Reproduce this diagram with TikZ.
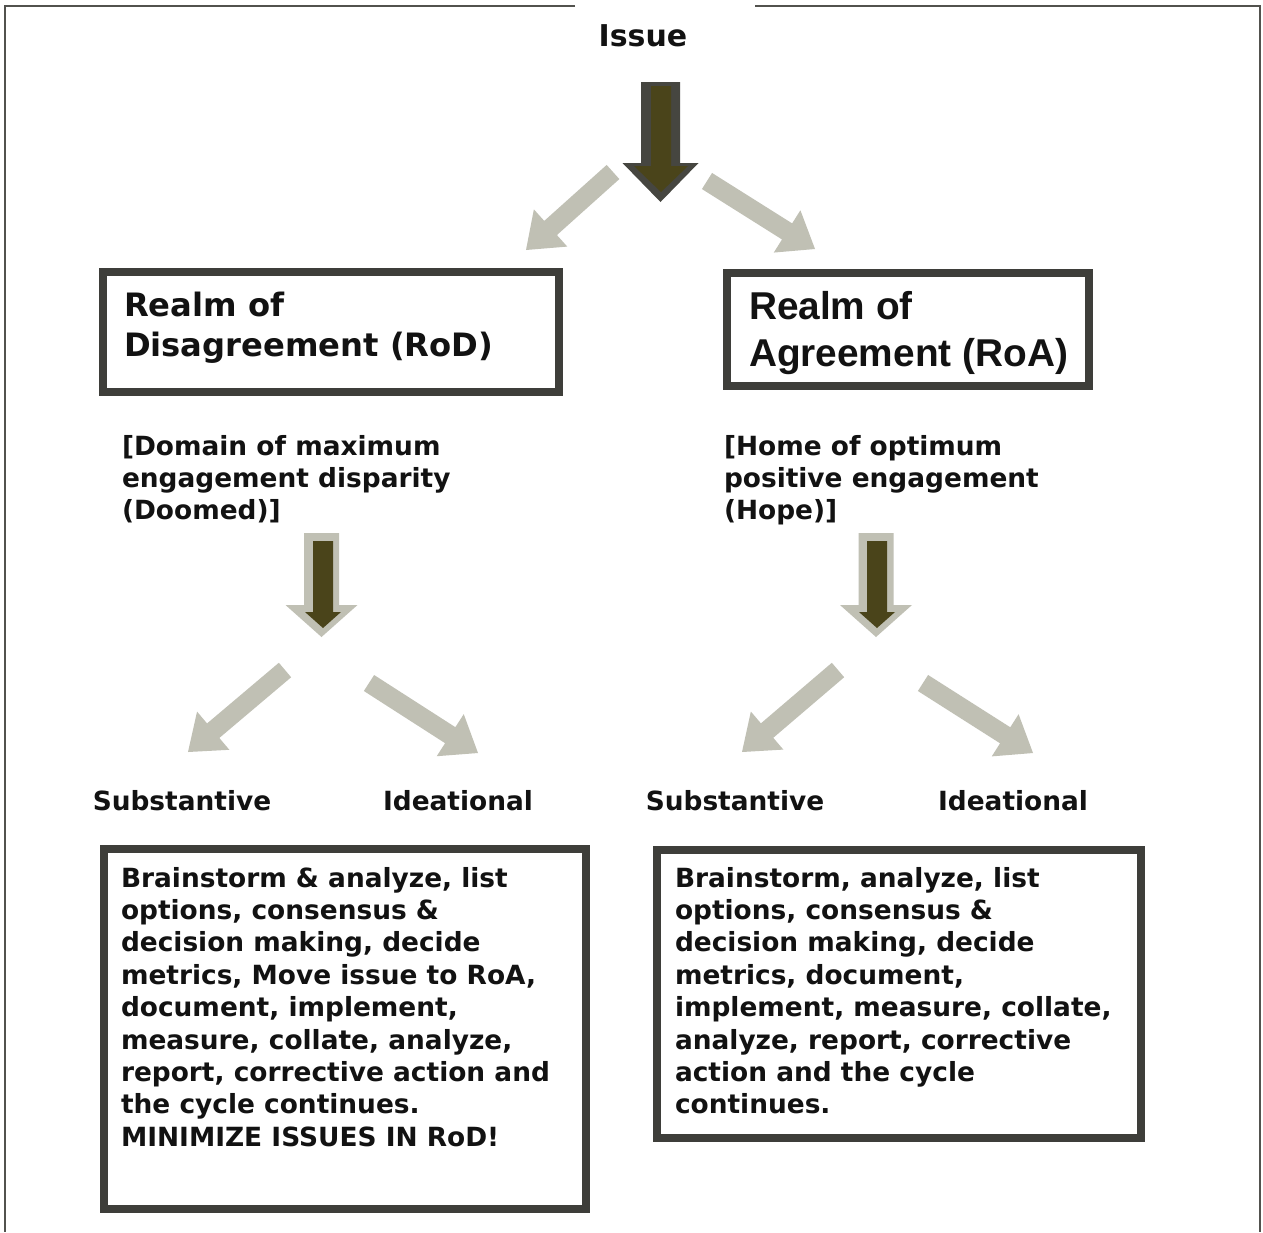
\documentclass[tikz,border=0pt]{standalone}
\usepackage{fontspec}
\setmainfont{DejaVu Sans}
\newfontfamily\arialfont{Liberation Sans}
\usetikzlibrary{calc}

\definecolor{framegray}{RGB}{82,82,78}
\definecolor{boxgray}{RGB}{62,62,58}
\definecolor{lightarrow}{RGB}{192,192,180}
\definecolor{darkarrow}{RGB}{70,70,64}
\definecolor{olivefill}{RGB}{74,68,26}
\definecolor{ink}{RGB}{18,18,18}

% Block arrow: #1 tail, #2 tip, #3 half shaft width, #4 half head width,
% #5 head length, #6 fill style
\newcommand\blockarrow[6]{%
  \path coordinate (ba-h) at ($(#2)!#5!(#1)$);
  \fill[#6] ($(#1)!#3!-90:(#2)$) -- ($(ba-h)!#3!90:(#1)$)
    -- ($(ba-h)!#4!90:(#1)$) -- (#2) -- ($(ba-h)!#4!-90:(#1)$)
    -- ($(ba-h)!#3!-90:(#1)$) -- ($(#1)!#3!90:(#2)$) -- cycle;
}

\begin{document}
\begin{tikzpicture}[x=1pt,y=-1pt,
  bodytext/.style={inner sep=0pt, outer sep=0pt, text=ink, align=left,
    anchor=north west, font=\bfseries\fontsize{26.4}{32.4}\selectfont},
  label/.style={inner sep=0pt, text=ink, font=\bfseries\fontsize{26.4}{32}\selectfont},
  realmbox/.style={draw=boxgray, line width=7.5pt, inner sep=0pt},
  grayarrow/.style={fill=lightarrow},
  ]
\useasboundingbox (0,0) rectangle (1263,1232);
\fill[white] (0,0) rectangle (1263,1232);

% outer frame, open at the top around the title
\draw[framegray, line width=2pt] (575,6) -- (5,6) -- (5,1232);
\draw[framegray, line width=2pt] (755,6) -- (1260,6) -- (1260,1232);

% title
\node[label, font=\bfseries\fontsize{30}{36}\selectfont] (issue) at (643,36) {Issue};

% main downward arrow
\coordinate (mainTail) at (660.5,82);
\coordinate (mainTip) at (660.5,202);
\blockarrow{mainTail}{mainTip}{19.5pt}{38pt}{39pt}{darkarrow}
\coordinate (mainTailIn) at (661,86);
\coordinate (mainTipIn) at (661,192);
\blockarrow{mainTailIn}{mainTipIn}{10pt}{27pt}{26pt}{olivefill}

% realm boxes
\node[realmbox, minimum width=456pt, minimum height=120pt] (rod) at (331,332) {};
\node[realmbox, minimum width=362pt, minimum height=113pt] (roa) at (908,329.5) {};

\node[bodytext, font=\bfseries\fontsize{32.2}{40}\selectfont] (rodtitle) at (124,292)
  {Realm of\\Disagreement (RoD)};
\node[bodytext, font=\arialfont\bfseries\fontsize{38.8}{47}\selectfont] (roatitle) at (749,291)
  {Realm of\\Agreement (RoA)};

% split arrows below the title
\coordinate (issueL) at (613,172);
\coordinate (rodIn) at (526,250);
\coordinate (issueR) at (707,181);
\coordinate (roaIn) at (815,249);
\blockarrow{issueL}{rodIn}{9.5pt}{25pt}{33pt}{grayarrow}
\blockarrow{issueR}{roaIn}{9.5pt}{25pt}{33pt}{grayarrow}

% descriptions
\node[bodytext] (rodnote) at (122,435)
  {[Domain of maximum\\engagement disparity\\(Doomed)]};
\node[bodytext] (roanote) at (724,435)
  {[Home of optimum\\positive engagement\\(Hope)]};

% small downward arrows
\coordinate (rodDownTail) at (321.5,533);
\coordinate (rodDownTip) at (321.5,637);
\blockarrow{rodDownTail}{rodDownTip}{17.5pt}{36pt}{32pt}{grayarrow}
\coordinate (rodDownTailIn) at (323,541);
\coordinate (rodDownTipIn) at (323,628);
\blockarrow{rodDownTailIn}{rodDownTipIn}{10pt}{18pt}{16pt}{olivefill}

\coordinate (roaDownTail) at (876,533);
\coordinate (roaDownTip) at (876,637);
\blockarrow{roaDownTail}{roaDownTip}{17.5pt}{36pt}{32pt}{grayarrow}
\coordinate (roaDownTailIn) at (877,541);
\coordinate (roaDownTipIn) at (877,628);
\blockarrow{roaDownTailIn}{roaDownTipIn}{10pt}{18pt}{16pt}{olivefill}

% branch arrows
\coordinate (rodL) at (285,670);
\coordinate (rodSub) at (188,752);
\coordinate (rodR) at (369,683);
\coordinate (rodIdea) at (478,753);
\blockarrow{rodL}{rodSub}{9.5pt}{25pt}{33pt}{grayarrow}
\blockarrow{rodR}{rodIdea}{9.5pt}{25pt}{33pt}{grayarrow}

\coordinate (roaL) at (838,670);
\coordinate (roaSub) at (742,752);
\coordinate (roaR) at (923,683);
\coordinate (roaIdea) at (1033,753);
\blockarrow{roaL}{roaSub}{9.5pt}{25pt}{33pt}{grayarrow}
\blockarrow{roaR}{roaIdea}{9.5pt}{25pt}{33pt}{grayarrow}

% branch labels
\node[label] (sub1) at (182,801) {Substantive};
\node[label] (idea1) at (458,801) {Ideational};
\node[label] (sub2) at (735,801) {Substantive};
\node[label] (idea2) at (1013,801) {Ideational};

% action boxes
\node[realmbox, line width=8pt, minimum width=482pt, minimum height=360pt] (rodbox) at (345,1029) {};
\node[realmbox, line width=8pt, minimum width=484pt, minimum height=288pt] (roabox) at (899,993.5) {};

\node[bodytext] (rodsteps) at (121,867)
  {Brainstorm \& analyze, list\\options, consensus \&\\decision making, decide\\metrics, Move issue to RoA,\\document, implement,\\measure, collate, analyze,\\report, corrective action and\\the cycle continues.\\MINIMIZE ISSUES IN RoD!};
\node[bodytext] (roasteps) at (675,867)
  {Brainstorm, analyze, list\\options, consensus \&\\decision making, decide\\metrics, document,\\implement, measure, collate,\\analyze, report, corrective\\action and the cycle\\continues.};
\end{tikzpicture}
\end{document}
